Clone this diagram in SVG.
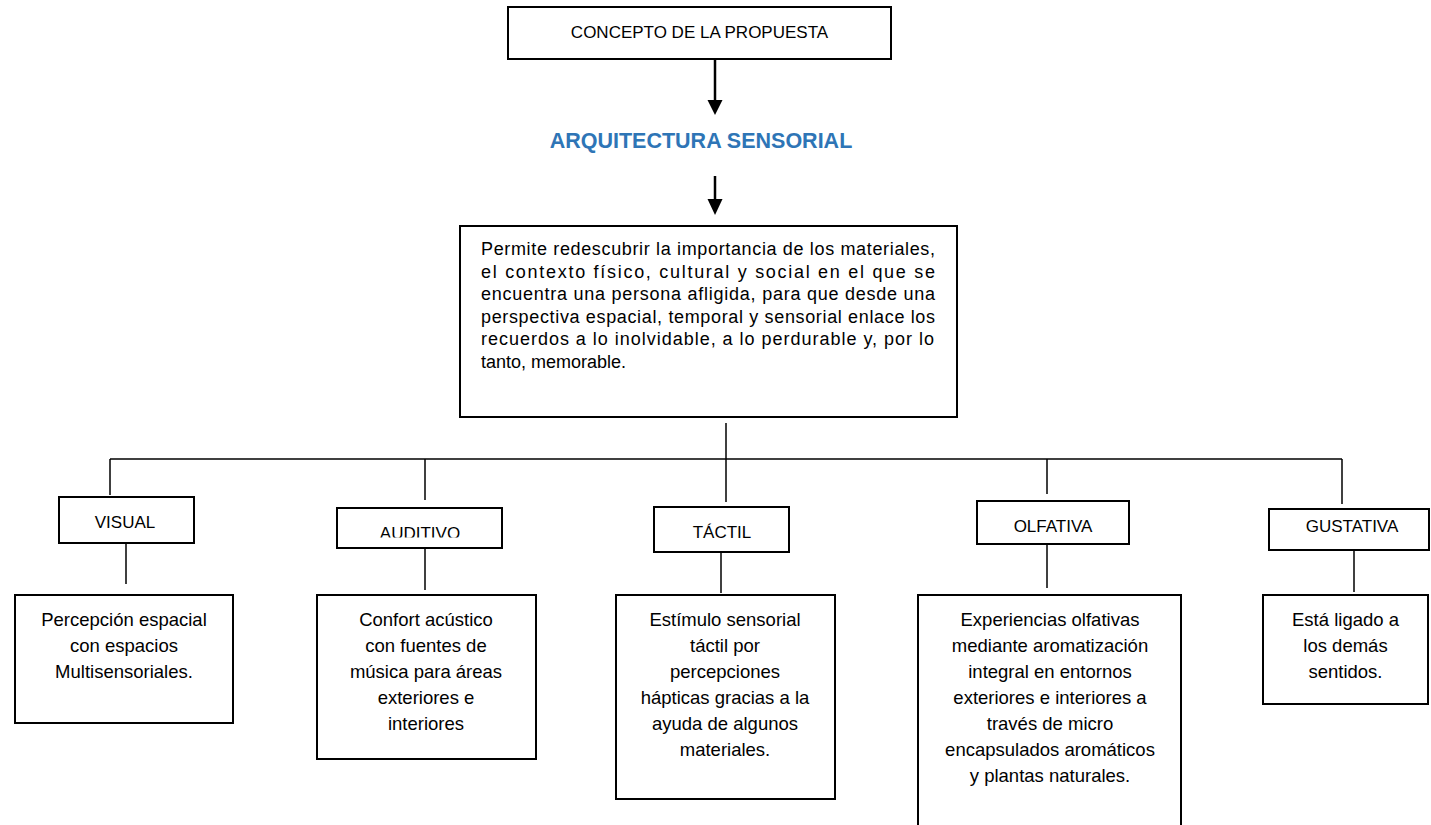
<svg xmlns="http://www.w3.org/2000/svg" width="1431" height="825" viewBox="0 0 1431 825">
  <style>
    .box { fill: #ffffff; stroke: #000000; stroke-width: 2; }
    .conn { fill: none; stroke: #000000; stroke-width: 1.5; }
    .arrow { fill: none; stroke: #000000; stroke-width: 2.5; }
    .head { fill: #000000; stroke: none; }
    .hdr { font-family: "Liberation Sans", Arial, sans-serif; font-size: 17px; fill: #000000; text-anchor: middle; }
    .body { font-family: "Liberation Sans", Arial, sans-serif; font-size: 18px; fill: #000000; }
    .det { font-family: "Liberation Sans", Arial, sans-serif; font-size: 18.5px; fill: #000000; text-anchor: middle; }
    .title { font-family: "Liberation Sans", Arial, sans-serif; font-size: 21.5px; font-weight: bold; fill: #2E75B6; text-anchor: middle; }
  </style>
  <defs>
    <clipPath id="clipAud">
      <rect x="337" y="508" width="165" height="29.5"/>
    </clipPath>
  </defs>
  <rect x="0" y="0" width="1431" height="825" fill="#ffffff"/>

  <g id="connectors">
    <line class="arrow" x1="715" y1="59" x2="715" y2="101"/>
    <polygon class="head" points="707.5,100 722.5,100 715,115"/>
    <line class="arrow" x1="715" y1="176" x2="715" y2="200"/>
    <polygon class="head" points="707.5,199 722.5,199 715,215"/>
    <line class="conn" x1="726" y1="423" x2="726" y2="459"/>
    <line class="conn" x1="110" y1="459" x2="1342" y2="459"/>
    <line class="conn" x1="110" y1="459" x2="110" y2="495"/>
    <line class="conn" x1="425" y1="459" x2="425" y2="500"/>
    <line class="conn" x1="726" y1="459" x2="726" y2="502"/>
    <line class="conn" x1="1047" y1="459" x2="1047" y2="494"/>
    <line class="conn" x1="1342" y1="459" x2="1342" y2="504"/>
    <line class="conn" x1="126" y1="543" x2="126" y2="584"/>
    <line class="conn" x1="425" y1="548" x2="425" y2="590"/>
    <line class="conn" x1="721" y1="552" x2="721" y2="593"/>
    <line class="conn" x1="1047" y1="544" x2="1047" y2="588"/>
    <line class="conn" x1="1354" y1="550" x2="1354" y2="592"/>
  </g>

  <g id="concepto">
    <rect class="box" x="508" y="7" width="383" height="52"/>
    <text class="hdr" x="699.5" y="38">CONCEPTO DE LA PROPUESTA</text>
  </g>

  <g id="arquitectura">
    <text class="title" x="701" y="148">ARQUITECTURA SENSORIAL</text>
  </g>

  <g id="descripcion">
    <rect class="box" x="460" y="226" width="497" height="191"/>
    <text class="body" x="481" y="255" textLength="454" lengthAdjust="spacing">Permite redescubrir la importancia de los materiales,</text>
    <text class="body" x="481" y="277.5" textLength="454" lengthAdjust="spacing">el contexto físico, cultural y social en el que se</text>
    <text class="body" x="481" y="300" textLength="454" lengthAdjust="spacing">encuentra una persona afligida, para que desde una</text>
    <text class="body" x="481" y="322.5" textLength="454" lengthAdjust="spacing">perspectiva espacial, temporal y sensorial enlace los</text>
    <text class="body" x="481" y="345" textLength="453" lengthAdjust="spacing">recuerdos a lo inolvidable, a lo perdurable y, por lo</text>
    <text class="body" x="481" y="367.5">tanto, memorable.</text>
  </g>

  <g id="visual">
    <rect class="box" x="59" y="497" width="135" height="46"/>
    <text class="hdr" x="125" y="528">VISUAL</text>
  </g>
  <g id="auditivo">
    <rect class="box" x="337" y="508" width="165" height="40"/>
    <text class="hdr" x="420" y="539" clip-path="url(#clipAud)">AUDITIVO</text>
  </g>
  <g id="tactil">
    <rect class="box" x="654" y="507" width="135" height="45"/>
    <text class="hdr" x="722" y="538">TÁCTIL</text>
  </g>
  <g id="olfativa">
    <rect class="box" x="977" y="501" width="152" height="43"/>
    <text class="hdr" x="1053" y="531.5">OLFATIVA</text>
  </g>
  <g id="gustativa">
    <rect class="box" x="1269" y="509" width="160" height="41"/>
    <text class="hdr" x="1352" y="532">GUSTATIVA</text>
  </g>

  <g id="visual-detalle">
    <rect class="box" x="15" y="595" width="218" height="128"/>
    <text class="det" x="124" y="626">Percepción espacial</text>
    <text class="det" x="124" y="652">con espacios</text>
    <text class="det" x="124" y="678">Multisensoriales.</text>
  </g>
  <g id="auditivo-detalle">
    <rect class="box" x="317" y="595" width="219" height="164"/>
    <text class="det" x="426" y="626">Confort acústico</text>
    <text class="det" x="426" y="652">con fuentes de</text>
    <text class="det" x="426" y="678">música para áreas</text>
    <text class="det" x="426" y="704">exteriores e</text>
    <text class="det" x="426" y="730">interiores</text>
  </g>
  <g id="tactil-detalle">
    <rect class="box" x="616" y="595" width="219" height="204"/>
    <text class="det" x="725" y="626">Estímulo sensorial</text>
    <text class="det" x="725" y="652">táctil por</text>
    <text class="det" x="725" y="678">percepciones</text>
    <text class="det" x="725" y="704">hápticas gracias a la</text>
    <text class="det" x="725" y="730">ayuda de algunos</text>
    <text class="det" x="725" y="756">materiales.</text>
  </g>
  <g id="olfativa-detalle">
    <rect class="box" x="918" y="595" width="263" height="240"/>
    <text class="det" x="1050" y="626">Experiencias olfativas</text>
    <text class="det" x="1050" y="652">mediante aromatización</text>
    <text class="det" x="1050" y="678">integral en entornos</text>
    <text class="det" x="1050" y="704">exteriores e interiores a</text>
    <text class="det" x="1050" y="730">través de micro</text>
    <text class="det" x="1050" y="756">encapsulados aromáticos</text>
    <text class="det" x="1050" y="782">y plantas naturales.</text>
  </g>
  <g id="gustativa-detalle">
    <rect class="box" x="1263" y="595" width="165" height="109"/>
    <text class="det" x="1345.5" y="626">Está ligado a</text>
    <text class="det" x="1345.5" y="652">los demás</text>
    <text class="det" x="1345.5" y="678">sentidos.</text>
  </g>
</svg>
